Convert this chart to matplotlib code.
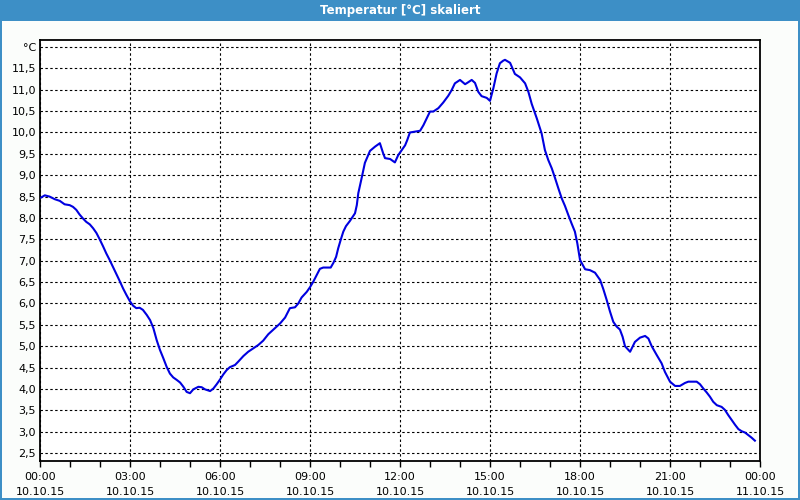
import matplotlib
matplotlib.use("Agg")
import matplotlib.pyplot as plt
from matplotlib.patches import Rectangle

# time in hours since 10.10.15 00:00
hours = [0.04, 0.16, 0.32, 0.49, 0.66, 0.82, 0.99, 1.10, 1.21, 1.32, 1.43, 1.54, 1.66, 1.77, 1.88,
         1.99, 2.10, 2.21, 2.32, 2.43, 2.54, 2.66, 2.77, 2.88, 2.99, 3.10, 3.21, 3.32, 3.43, 3.56,
         3.67, 3.78, 3.89, 4.00, 4.11, 4.22, 4.33, 4.44, 4.56, 4.67, 4.78, 4.89, 5.00, 5.11, 5.28,
         5.39, 5.50, 5.67, 5.78, 5.89, 6.00, 6.11, 6.22, 6.33, 6.50, 6.61, 6.78, 6.94, 7.11, 7.28,
         7.44, 7.61, 7.78, 7.94, 8.00, 8.17, 8.33, 8.50, 8.61, 8.72, 8.89, 9.00, 9.11, 9.22, 9.33,
         9.44, 9.69, 9.78, 9.87, 9.94, 10.02, 10.11, 10.20, 10.33, 10.50, 10.56, 10.61, 10.67, 10.72,
         10.83, 11.00, 11.17, 11.33, 11.44, 11.50, 11.67, 11.83, 11.94, 12.17, 12.24, 12.33, 12.50,
         12.67, 12.78, 12.89, 13.00, 13.11, 13.28, 13.44, 13.61, 13.72, 13.83, 14.00, 14.17, 14.24,
         14.39, 14.50, 14.61, 14.72, 14.89, 15.00, 15.11, 15.22, 15.33, 15.44, 15.50, 15.67, 15.83,
         16.00, 16.17, 16.28, 16.39, 16.56, 16.72, 16.83, 16.94, 17.06, 17.17, 17.28, 17.39, 17.50,
         17.61, 17.72, 17.83, 17.91, 18.00, 18.17, 18.33, 18.50, 18.67, 18.78, 18.89, 19.00, 19.11,
         19.22, 19.33, 19.42, 19.50, 19.67, 19.83, 20.00, 20.17, 20.28, 20.39, 20.56, 20.72, 20.83,
         21.00, 21.17, 21.33, 21.50, 21.61, 21.89, 22.00, 22.11, 22.22, 22.33, 22.44, 22.56, 22.72,
         22.83, 22.94, 23.06, 23.17, 23.28, 23.39, 23.50, 23.61, 23.72, 23.83]
temps = [8.48, 8.53, 8.50, 8.44, 8.40, 8.32, 8.30, 8.26, 8.19, 8.08, 7.99, 7.91, 7.85, 7.76, 7.65,
         7.50, 7.34, 7.17, 7.02, 6.86, 6.70, 6.52, 6.35, 6.20, 6.06, 5.95, 5.89, 5.90, 5.85, 5.73,
         5.61, 5.42, 5.14, 4.91, 4.72, 4.52, 4.36, 4.27, 4.21, 4.15, 4.05, 3.93, 3.90, 3.99, 4.05,
         4.04, 3.99, 3.95, 4.01, 4.11, 4.22, 4.34, 4.44, 4.51, 4.56, 4.64, 4.77, 4.87, 4.95, 5.03,
         5.13, 5.28, 5.39, 5.49, 5.53, 5.67, 5.89, 5.91, 6.00, 6.14, 6.27, 6.38, 6.51, 6.66, 6.81,
         6.84, 6.84, 6.95, 7.09, 7.29, 7.48, 7.68, 7.81, 7.93, 8.11, 8.30, 8.58, 8.77, 8.93,
         9.29, 9.57, 9.67, 9.75, 9.51, 9.40, 9.38, 9.30, 9.47, 9.70, 9.82, 10.00, 10.02,
         10.04, 10.17, 10.33, 10.49, 10.49, 10.57, 10.70, 10.86, 10.99, 11.15, 11.23, 11.13, 11.16,
         11.23, 11.16, 10.95, 10.85, 10.81, 10.74, 11.03, 11.38, 11.62, 11.68, 11.70, 11.63, 11.37,
         11.29, 11.15, 10.95, 10.67, 10.33, 9.98, 9.59, 9.36, 9.16, 8.93, 8.69, 8.46, 8.28,
         8.07, 7.87, 7.68, 7.41, 7.02, 6.80, 6.78, 6.72, 6.55, 6.33, 6.08, 5.81, 5.57,
         5.46, 5.39, 5.22, 5.00, 4.87, 5.10, 5.20, 5.24, 5.18, 5.00, 4.79, 4.60, 4.40,
         4.17, 4.07, 4.07, 4.14, 4.17, 4.17, 4.11, 4.01, 3.92, 3.82, 3.70, 3.62, 3.58,
         3.51, 3.39, 3.27, 3.16, 3.06, 3.01, 2.98, 2.92, 2.86, 2.79]

x_ticks = [0, 3, 6, 9, 12, 15, 18, 21, 24]
x_labels = ["00:00\n10.10.15", "03:00\n10.10.15", "06:00\n10.10.15", "09:00\n10.10.15",
            "12:00\n10.10.15", "15:00\n10.10.15", "18:00\n10.10.15", "21:00\n10.10.15",
            "00:00\n11.10.15"]
y_ticks = [2.5, 3.0, 3.5, 4.0, 4.5, 5.0, 5.5, 6.0, 6.5, 7.0, 7.5, 8.0, 8.5, 9.0, 9.5,
           10.0, 10.5, 11.0, 11.5, 12.0]
y_labels = ["2,5", "3,0", "3,5", "4,0", "4,5", "5,0", "5,5", "6,0", "6,5", "7,0", "7,5", "8,0",
            "8,5", "9,0", "9,5", "10,0", "10,5", "11,0", "11,5", "°C"]
title = "Temperatur [°C] skaliert"

W, H = 800, 500
fig = plt.figure(figsize=(8, 5), dpi=100)
fig.patch.set_facecolor("#fbfdfb")

blue = "#3d8fc6"
# title bar
fig.add_artist(Rectangle((0, 1 - 21 / H), 1, 21 / H, transform=fig.transFigure,
                         facecolor=blue, edgecolor="none", zorder=0))
# frame borders
fig.add_artist(Rectangle((0, 0), 2 / W, 1, transform=fig.transFigure, facecolor=blue, edgecolor="none"))
fig.add_artist(Rectangle((1 - 2 / W, 0), 2 / W, 1, transform=fig.transFigure, facecolor=blue, edgecolor="none"))
fig.add_artist(Rectangle((0, 0), 1, 2 / H, transform=fig.transFigure, facecolor=blue, edgecolor="none"))
fig.text(0.5, 1 - 10.5 / H, title, color="white", fontsize=8.5, fontweight="bold",
         ha="center", va="center", family="DejaVu Sans")

ax = fig.add_axes([40 / W, 39 / H, 720 / W, 421 / H])
ax.set_facecolor("white")
ax.plot(hours, temps, color="#0000e0", linewidth=1.5, zorder=3)

ax.set_xlim(0, 24)
ax.set_ylim(2.314, 12.164)
ax.set_xticks(x_ticks)
ax.set_xticklabels(x_labels, fontsize=8, linespacing=1.55)
ax.set_xticks(range(0, 25), minor=True)
ax.set_yticks(y_ticks)
ax.set_yticklabels(y_labels, fontsize=8)
ax.tick_params(axis="y", length=0, pad=3)
ax.tick_params(axis="x", which="both", length=4, width=1, direction="out", pad=4, color="black")

ax.grid(True, which="major", color="black", linestyle=(0, (2.2, 2.2)), linewidth=0.8)
for s in ax.spines.values():
    s.set_linewidth(1.3)
    s.set_color("black")

fig.savefig("out.png", dpi=100, facecolor=fig.get_facecolor())
